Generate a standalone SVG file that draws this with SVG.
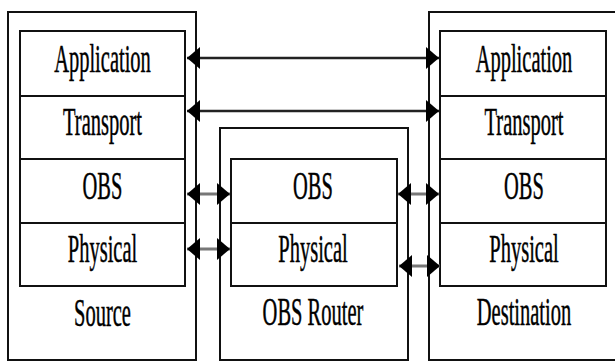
<svg xmlns="http://www.w3.org/2000/svg" width="615" height="362" viewBox="0 0 615 362">
<style>
.box{fill:none;stroke:#111;stroke-width:2}
.div{stroke:#111;stroke-width:2}
.lbl{font-family:"Liberation Serif","Times New Roman",serif;font-size:20.5px;fill:#000;stroke:#000;stroke-width:0.25;text-anchor:middle}
.long{stroke:#222;stroke-width:2.5;fill:none}
.short{stroke:#777;stroke-width:3;fill:none}
</style>
<defs>
<marker id="ah" viewBox="0 0 13 22" refX="13" refY="11" markerWidth="13" markerHeight="22" markerUnits="userSpaceOnUse" orient="auto-start-reverse">
<path d="M0,0 L13,11 L0,22 z" fill="#000"/>
</marker>
</defs>
<rect width="615" height="362" fill="#fff"/>
<g id="source">
<rect class="box" x="8" y="12" width="188" height="348"/>
<rect class="box" x="20" y="31" width="165" height="255"/>
<line class="div" x1="20" y1="96" x2="185" y2="96"/>
<line class="div" x1="20" y1="159" x2="185" y2="159"/>
<line class="div" x1="20" y1="223" x2="185" y2="223"/>
<text class="lbl" transform="translate(102.5 72) scale(1 1.95)">Application</text>
<text class="lbl" transform="translate(102.5 135) scale(1 1.95)">Transport</text>
<text class="lbl" transform="translate(102.5 199) scale(1 1.95)">OBS</text>
<text class="lbl" transform="translate(102.5 262) scale(1 1.95)">Physical</text>
<text class="lbl" transform="translate(102.5 326) scale(1 1.95)">Source</text>
</g>
<g id="router">
<rect class="box" x="220" y="128" width="188" height="232"/>
<rect class="box" x="231" y="159" width="166" height="127"/>
<line class="div" x1="231" y1="223" x2="397" y2="223"/>
<text class="lbl" transform="translate(313 199) scale(1 1.95)">OBS</text>
<text class="lbl" transform="translate(313 262) scale(1 1.95)">Physical</text>
<text class="lbl" transform="translate(313 325) scale(1 1.95)">OBS Router</text>
</g>
<g id="destination">
<path class="box" d="M615,12 H429 V360 H615"/>
<rect class="box" x="440" y="31" width="166" height="255"/>
<line class="div" x1="440" y1="96" x2="606" y2="96"/>
<line class="div" x1="440" y1="159" x2="606" y2="159"/>
<line class="div" x1="440" y1="223" x2="606" y2="223"/>
<text class="lbl" transform="translate(524 72) scale(1 1.95)">Application</text>
<text class="lbl" transform="translate(524 135) scale(1 1.95)">Transport</text>
<text class="lbl" transform="translate(524 199) scale(1 1.95)">OBS</text>
<text class="lbl" transform="translate(524 262) scale(1 1.95)">Physical</text>
<text class="lbl" transform="translate(524 325) scale(1 1.95)">Destination</text>
</g>
<g id="connectors">
<line class="long" x1="187" y1="58" x2="439" y2="58" marker-start="url(#ah)" marker-end="url(#ah)"/>
<line class="long" x1="187" y1="111" x2="439" y2="111" marker-start="url(#ah)" marker-end="url(#ah)"/>
<line class="short" x1="187" y1="194" x2="230" y2="194" marker-start="url(#ah)" marker-end="url(#ah)"/>
<line class="short" x1="187" y1="249" x2="230" y2="249" marker-start="url(#ah)" marker-end="url(#ah)"/>
<line class="short" x1="398" y1="194" x2="439" y2="194" marker-start="url(#ah)" marker-end="url(#ah)"/>
<line class="short" x1="399" y1="266" x2="440" y2="266" marker-start="url(#ah)" marker-end="url(#ah)"/>
</g>
</svg>
